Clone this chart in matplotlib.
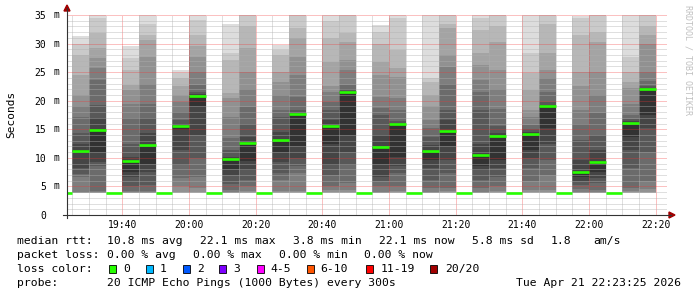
import matplotlib
matplotlib.use("Agg")
import matplotlib.pyplot as plt
import matplotlib.transforms as mtransforms
from matplotlib.patches import Polygon, Rectangle
from matplotlib.lines import Line2D

plt.rcParams["font.family"] = ["DejaVu Sans Mono", "DejaVu Sans"]

W, H = 697, 297

# 20 sorted pings (ms) per 5-minute column
b1 = [3.8, 3.8, 3.8, 3.9, 3.9, 4.0, 6.7, 7.2, 8.3, 11.0, 11.4, 12.5, 14.3, 17.2, 19.0, 21.0, 24.5, 28.0, 30.0, 31.3]
b2 = [3.8, 3.8, 3.8, 3.9, 3.9, 4.0, 4.2, 8.5, 9.3, 11.1, 14.8, 16.9, 19.3, 23.6, 25.7, 27.4, 29.2, 31.8, 34.4, 38.0]
b3 = [3.8, 3.8, 3.8, 3.9, 3.9, 4.0, 4.2, 5.0, 6.7, 7.5, 9.5, 10.2, 12.5, 16.9, 19.5, 21.9, 22.8, 25.4, 27.4, 29.5]
b4 = [3.8, 3.8, 3.8, 3.9, 3.9, 4.0, 4.2, 5.3, 7.5, 9.0, 12.3, 14.4, 16.9, 19.5, 23.0, 27.7, 30.6, 31.5, 33.5, 38.0]
b5 = [3.8, 3.8, 3.8, 3.9, 4.0, 5.0, 6.4, 8.8, 11.4, 14.8, 15.5, 15.9, 16.6, 18.1, 19.8, 21.0, 22.5, 24.0, 24.8, 25.4]
b6 = [3.8, 3.8, 3.8, 3.9, 4.0, 4.7, 6.7, 10.0, 14.0, 19.0, 20.9, 21.2, 21.6, 22.8, 25.1, 27.7, 29.5, 31.5, 34.1, 38.0]
b7 = [3.8, 3.8, 3.8, 3.9, 3.9, 4.0, 4.4, 5.5, 7.0, 8.0, 9.85, 10.2, 11.4, 13.5, 17.2, 20.4, 21.3, 27.1, 28.3, 33.4]
b8 = [3.8, 3.8, 3.8, 3.9, 4.0, 4.2, 5.0, 6.1, 7.9, 9.4, 12.65, 13.7, 16.0, 18.9, 22.1, 25.0, 29.2, 33.0, 35.5, 38.0]
b9 = [3.8, 3.8, 3.8, 3.9, 4.0, 4.2, 6.1, 7.3, 9.3, 11.1, 13.1, 14.6, 17.2, 18.4, 21.0, 23.3, 25.1, 28.0, 28.9, 29.75]
b10 = [3.8, 3.8, 3.8, 3.9, 4.0, 4.2, 7.3, 8.5, 9.9, 12.0, 17.6, 17.8, 18.4, 20.7, 24.5, 27.7, 31.0, 32.7, 35.5, 38.0]
b11 = [3.8, 3.8, 3.8, 3.9, 4.0, 4.3, 5.0, 7.0, 8.8, 12.5, 15.6, 16.6, 18.4, 19.8, 21.6, 22.5, 26.8, 30.9, 34.0, 36.0]
b12 = [3.8, 3.8, 3.8, 3.9, 4.0, 4.3, 5.6, 8.8, 11.1, 14.0, 21.45, 21.7, 22.1, 22.8, 25.4, 27.1, 30.3, 31.8, 35.0, 38.0]
b13 = [3.8, 3.8, 3.8, 3.9, 3.9, 4.0, 5.0, 5.9, 6.7, 8.9, 11.95, 14.0, 17.5, 18.7, 20.7, 24.5, 26.8, 30.0, 32.1, 33.25]
b14 = [3.8, 3.8, 3.8, 3.9, 4.0, 4.2, 5.0, 7.3, 8.5, 10.2, 15.9, 16.0, 16.4, 18.4, 20.4, 24.2, 25.7, 28.9, 34.4, 38.0]
b15 = [3.8, 3.8, 3.8, 3.9, 3.9, 4.1, 4.7, 6.1, 8.2, 9.6, 11.2, 12.3, 13.7, 15.2, 16.6, 19.0, 21.0, 23.3, 24.0, 36.0]
b16 = [3.8, 3.8, 3.8, 3.9, 4.0, 4.2, 4.7, 7.3, 9.6, 12.0, 14.75, 16.6, 18.4, 23.0, 25.9, 28.0, 32.7, 33.5, 35.0, 38.0]
b17 = [3.8, 3.8, 3.8, 3.9, 3.9, 4.1, 4.7, 6.1, 7.9, 8.5, 10.5, 12.5, 18.4, 21.6, 23.6, 26.2, 28.3, 32.4, 34.4, 36.0]
b18 = [3.8, 3.8, 3.8, 3.9, 4.0, 4.2, 5.0, 6.7, 8.2, 9.6, 13.8, 14.3, 15.5, 18.5, 22.0, 25.4, 30.3, 33.0, 35.0, 38.0]
b19 = [3.8, 3.8, 3.8, 3.9, 4.0, 4.3, 5.9, 8.2, 9.9, 11.4, 14.2, 14.6, 15.0, 15.8, 17.2, 18.4, 21.9, 24.8, 28.3, 36.0]
b20 = [3.8, 3.8, 3.8, 3.9, 4.0, 4.4, 7.0, 9.6, 12.5, 15.2, 19.1, 19.3, 19.8, 21.6, 23.9, 25.4, 28.3, 33.5, 35.0, 36.0]
b21 = [3.8, 3.8, 3.8, 3.9, 3.9, 4.1, 4.5, 5.3, 5.9, 6.7, 7.45, 9.6, 13.1, 16.0, 18.4, 22.5, 25.1, 31.5, 34.4, 34.8]
b22 = [3.8, 3.8, 3.8, 3.9, 3.9, 4.1, 4.4, 5.6, 6.5, 7.6, 9.3, 11.4, 14.0, 17.8, 21.0, 25.0, 30.3, 32.0, 35.0, 38.0]
b23 = [3.8, 3.8, 3.8, 3.9, 4.0, 4.2, 4.7, 8.2, 11.4, 13.7, 16.15, 16.5, 16.8, 17.5, 19.5, 22.2, 23.3, 25.1, 27.7, 36.0]
b24 = [3.8, 3.8, 3.8, 3.9, 4.0, 4.5, 5.9, 11.0, 15.2, 17.5, 22.1, 22.3, 22.5, 23.5, 25.1, 30.0, 31.5, 33.0, 35.0, 38.0]

col_start = ["19:20", "19:25", "19:30", "19:35", "19:40", "19:45", "19:50", "19:55", "20:00",
             "20:05", "20:10", "20:15", "20:20", "20:25", "20:30", "20:35", "20:40", "20:45",
             "20:50", "20:55", "21:00", "21:05", "21:10", "21:15", "21:20", "21:25", "21:30",
             "21:35", "21:40", "21:45", "21:50", "21:55", "22:00", "22:05", "22:10", "22:15"]
median_ms = [3.8, 11.2, 14.8, 3.8, 9.5, 12.3, 3.8, 15.5, 20.9,
             3.8, 9.85, 12.65, 3.8, 13.1, 17.6, 3.8, 15.6, 21.45,
             3.8, 11.95, 15.9, 3.8, 11.2, 14.75, 3.8, 10.5, 13.8,
             3.8, 14.2, 19.1, 3.8, 7.45, 9.3, 3.8, 16.15, 22.1]
pings = [None, b1, b2, None, b3, b4, None, b5, b6,
         None, b7, b8, None, b9, b10, None, b11, b12,
         None, b13, b14, None, b15, b16, None, b17, b18,
         None, b19, b20, None, b21, b22, None, b23, b24]

x_ticks = ["19:40", "20:00", "20:20", "20:40", "21:00", "21:20", "21:40", "22:00", "22:20"]
y_ticks = [0, 5, 10, 15, 20, 25, 30, 35]

loss_labels = ["0", "1", "2", "3", "4-5", "6-10", "11-19", "20/20"]
loss_colors = ["#26ff00", "#00b8ff", "#0059ff", "#7e00ff", "#ff00ff", "#ff5500", "#ff0000", "#a10000"]


def to_min(s):
    h, m = s.split(":")
    return int(h) * 60 + int(m)


def fx(px):
    return px / W


def fy(py):
    return 1 - py / H


fig = plt.figure(figsize=(W / 100, H / 100), dpi=100)
fig.patch.set_facecolor("white")
ax = fig.add_axes([fx(67), fy(215), 600 / W, 200 / H])

t_begin = to_min("19:23") + 25 / 60
ax.set_xlim(t_begin, t_begin + 180)
ax.set_ylim(0, 35)

# smoke: outer pairs light, inner pairs dark
for k, t in enumerate(col_start):
    t0 = to_min(t)
    if pings[k] is not None:
        p = sorted(pings[k])
        for i in range(1, 11):
            g = (int(190 / 10 * (10 - i)) + 50) / 255
            ax.bar(t0, p[20 - i] - p[i - 1], bottom=p[i - 1], width=5, align="edge",
                   color=(g, g, g), linewidth=0, zorder=1)
    ax.hlines(median_ms[k], t0, t0 + 5, colors="#26ff00", linewidth=1.9, zorder=4)

# grid
ax.set_xticks([to_min(s) for s in x_ticks])
ax.set_xticklabels(x_ticks)
ax.set_xticks([to_min("19:25") + 5 * i for i in range(36)], minor=True)
ax.set_yticks(y_ticks)
ax.set_yticklabels([str(v) for v in y_ticks])
ax.set_yticks(range(0, 36), minor=True)
ax.set_axisbelow(False)
ax.grid(which="minor", color="#b0b0b0", alpha=0.4, linewidth=0.72,
        linestyle=(0, (1, 1)), antialiased=False)
ax.grid(which="major", color=(0.95, 0.2, 0.2), alpha=0.3, linewidth=0.72,
        linestyle=(0, (1, 1)), antialiased=False)
for s in ax.spines.values():
    s.set_visible(False)
ax.tick_params(which="both", direction="in", length=0, labelsize=7, colors="#000000")
ax.tick_params(axis="y", pad=15)
ax.tick_params(axis="x", pad=3.5)

# unit next to y tick numbers
tr = mtransforms.blended_transform_factory(fig.transFigure, ax.transData)
for v in y_ticks[1:]:
    ax.text(fx(54), v, "m", transform=tr, fontsize=7, ha="left", va="center", clip_on=False)

# axes with arrows
fig.add_artist(Line2D([fx(67), fx(67)], [fy(8), fy(218)], color="#333333", lw=0.8))
fig.add_artist(Line2D([fx(63), fx(671)], [fy(215), fy(215)], color="#333333", lw=0.8))
fig.add_artist(Polygon([(fx(64), fy(11)), (fx(70), fy(11)), (fx(67), fy(5))],
                       closed=True, color="#a00000", transform=fig.transFigure))
fig.add_artist(Polygon([(fx(669), fy(212)), (fx(669), fy(218)), (fx(675), fy(215))],
                       closed=True, color="#a00000", transform=fig.transFigure))

fig.text(fx(11), fy(114), "Seconds", rotation=90, fontsize=8, ha="center", va="center")
fig.text(fx(688), fy(60), "RRDTOOL / TOBI OETIKER", rotation=270, fontsize=6,
         color="#c0c0c0", ha="center", va="center")

# legend block
fs = 8.2
rows = [
    (241, [(16.7, "median rtt:"), (107.3, "10.8 ms avg"), (200, "22.1 ms max"), (293.3, "3.8 ms min"),
           (379.3, "22.1 ms now"), (472, "5.8 ms sd"), (551, "1.8"), (593, "am/s")]),
    (255, [(16.7, "packet loss:"), (107.3, "0.00 % avg"), (193.3, "0.00 % max"), (279.3, "0.00 % min"),
           (363.7, "0.00 % now")]),
    (269, [(16.7, "loss color:")]),
    (283, [(16.7, "probe:"), (107.3, "20 ICMP Echo Pings (1000 Bytes) every 300s")]),
]
for y, items in rows:
    for x, s in items:
        fig.text(fx(x), fy(y), s, fontsize=fs, ha="left", va="center")
fig.text(fx(680.5), fy(283), "Tue Apr 21 22:23:25 2026", fontsize=fs, ha="right", va="center")

sq_x = [109, 146, 182.7, 219.3, 256.7, 306.7, 366, 429.7]
lab_x = [123.3, 160, 196.7, 233.3, 270.7, 320.7, 380.3, 445.3]
for sx, lx, lab, c in zip(sq_x, lab_x, loss_labels, loss_colors):
    fig.add_artist(Rectangle((fx(sx), fy(273)), 7 / W, 8 / H, transform=fig.transFigure,
                             facecolor=c, edgecolor="black", linewidth=0.6))
    fig.text(fx(lx), fy(269), lab, fontsize=fs, ha="left", va="center")

fig.savefig("out.png", dpi=100)
